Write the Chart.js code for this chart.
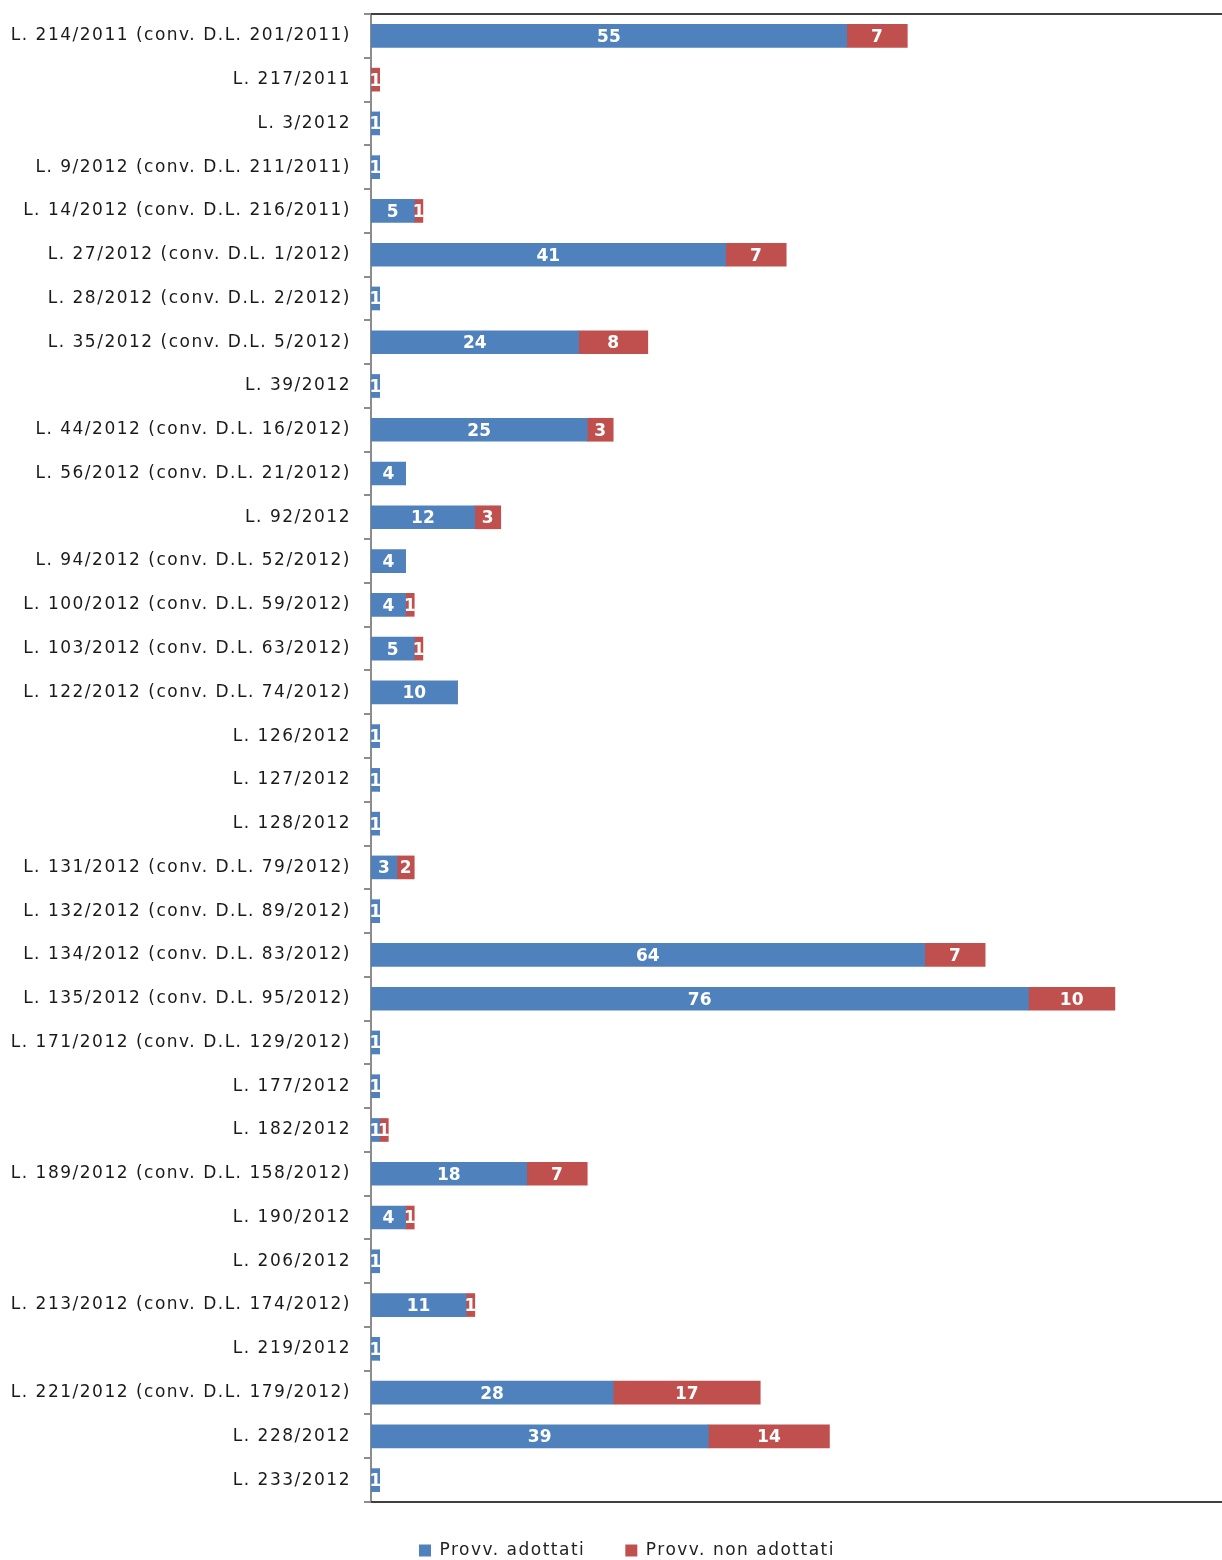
<!DOCTYPE html>
<html>
<head>
<meta charset="utf-8">
<script src="https://cdn.jsdelivr.net/npm/chart.js@4/dist/chart.umd.min.js"></script>
<style>
  html, body { margin: 0; padding: 0; background: #fff; overflow: hidden; }
  #wrap { position: relative; width: 1262px; height: 1569px; }
</style>
</head>
<body>
<div id="wrap"><canvas id="c"></canvas></div>
<script>
const categories = [
  "L. 214/2011 (conv. D.L. 201/2011)",
  "L. 217/2011",
  "L. 3/2012",
  "L. 9/2012 (conv. D.L. 211/2011)",
  "L. 14/2012 (conv. D.L. 216/2011)",
  "L. 27/2012 (conv. D.L. 1/2012)",
  "L. 28/2012 (conv. D.L. 2/2012)",
  "L. 35/2012 (conv. D.L. 5/2012)",
  "L. 39/2012",
  "L. 44/2012 (conv. D.L. 16/2012)",
  "L. 56/2012 (conv. D.L. 21/2012)",
  "L. 92/2012",
  "L. 94/2012 (conv. D.L. 52/2012)",
  "L. 100/2012 (conv. D.L. 59/2012)",
  "L. 103/2012 (conv. D.L. 63/2012)",
  "L. 122/2012 (conv. D.L. 74/2012)",
  "L. 126/2012",
  "L. 127/2012",
  "L. 128/2012",
  "L. 131/2012 (conv. D.L. 79/2012)",
  "L. 132/2012 (conv. D.L. 89/2012)",
  "L. 134/2012 (conv. D.L. 83/2012)",
  "L. 135/2012 (conv. D.L. 95/2012)",
  "L. 171/2012 (conv. D.L. 129/2012)",
  "L. 177/2012",
  "L. 182/2012",
  "L. 189/2012 (conv. D.L. 158/2012)",
  "L. 190/2012",
  "L. 206/2012",
  "L. 213/2012 (conv. D.L. 174/2012)",
  "L. 219/2012",
  "L. 221/2012 (conv. D.L. 179/2012)",
  "L. 228/2012",
  "L. 233/2012"
];
const adottati =    [55,0,1,1,5,41,1,24,1,25,4,12,4,4,5,10,1,1,1,3,1,64,76,1,1,1,18,4,1,11,1,28,39,1];
const nonAdottati = [7,1,0,0,1,7,0,8,0,3,0,3,0,1,1,0,0,0,0,2,0,7,10,0,0,1,7,1,0,1,0,17,14,0];
const seriesNames = ["Provv. adottati", "Provv. non adottati"];

const BLUE = "#4F81BD";
const RED = "#C0504D";

const spacing = {
  id: "spacing",
  beforeInit(chart) { chart.ctx.letterSpacing = "1.5px"; },
  beforeLayout(chart) { chart.ctx.letterSpacing = "1.5px"; },
  afterLayout(chart) {
    if (chart.legend) { chart.legend.left += 9; chart.legend.right += 9; }
  },
  beforeDraw(chart) { chart.ctx.letterSpacing = "1.5px"; }
};

const frameAndLabels = {
  id: "frameAndLabels",
  afterDatasetsDraw(chart) {
    const ctx = chart.ctx;
    const a = chart.chartArea;
    ctx.save();
    ctx.letterSpacing = "0px";
    ctx.font = "bold 17px 'DejaVu Sans'";
    ctx.fillStyle = "#ffffff";
    ctx.textAlign = "center";
    ctx.textBaseline = "middle";
    chart.data.datasets.forEach((ds, di) => {
      const meta = chart.getDatasetMeta(di);
      meta.data.forEach((el, i) => {
        const v = ds.data[i];
        if (!v) return;
        const p = el.getCenterPoint();
        ctx.fillText(String(v), p.x, p.y + 1.5);
      });
    });
    ctx.strokeStyle = "#404040";
    ctx.lineWidth = 2;
    ctx.beginPath();
    ctx.moveTo(a.left, a.top);
    ctx.lineTo(a.right + 40, a.top);
    ctx.moveTo(a.left, a.bottom);
    ctx.lineTo(a.right + 40, a.bottom);
    ctx.stroke();
    ctx.restore();
    ctx.letterSpacing = "1.5px";
  }
};

new Chart(document.getElementById("c"), {
  type: "bar",
  data: {
    labels: categories,
    datasets: [
      { label: seriesNames[0], data: adottati, backgroundColor: BLUE, borderWidth: 0, barThickness: 23 },
      { label: seriesNames[1], data: nonAdottati, backgroundColor: RED, borderWidth: 0, barThickness: 23 }
    ]
  },
  options: {
    indexAxis: "y",
    responsive: true,
    maintainAspectRatio: false,
    animation: false,
    layout: { padding: { top: 14, right: 26, bottom: 0, left: 0 } },
    scales: {
      x: {
        stacked: true,
        min: 0,
        max: 100,
        display: false
      },
      y: {
        stacked: true,
        offset: true,
        afterFit(scale) {
          scale.width = 371;
          scale.paddingTop = 0;
          scale.paddingBottom = 0;
        },
        grid: {
          offset: true,
          drawOnChartArea: false,
          drawTicks: true,
          tickLength: 7,
          color: "#8c8c8c",
          lineWidth: 2
        },
        border: { display: true, color: "#8c8c8c", width: 2 },
        ticks: {
          padding: 13,
          color: "#1a1a1a",
          font: { family: "'DejaVu Sans'", size: 17 },
          autoSkip: false
        }
      }
    },
    plugins: {
      legend: {
        position: "bottom",
        labels: {
          boxWidth: 12,
          boxHeight: 12,
          padding: 40,
          color: "#222",
          font: { family: "'DejaVu Sans'", size: 17 }
        }
      },
      tooltip: { enabled: false }
    }
  },
  plugins: [spacing, frameAndLabels]
});
</script>
</body>
</html>
